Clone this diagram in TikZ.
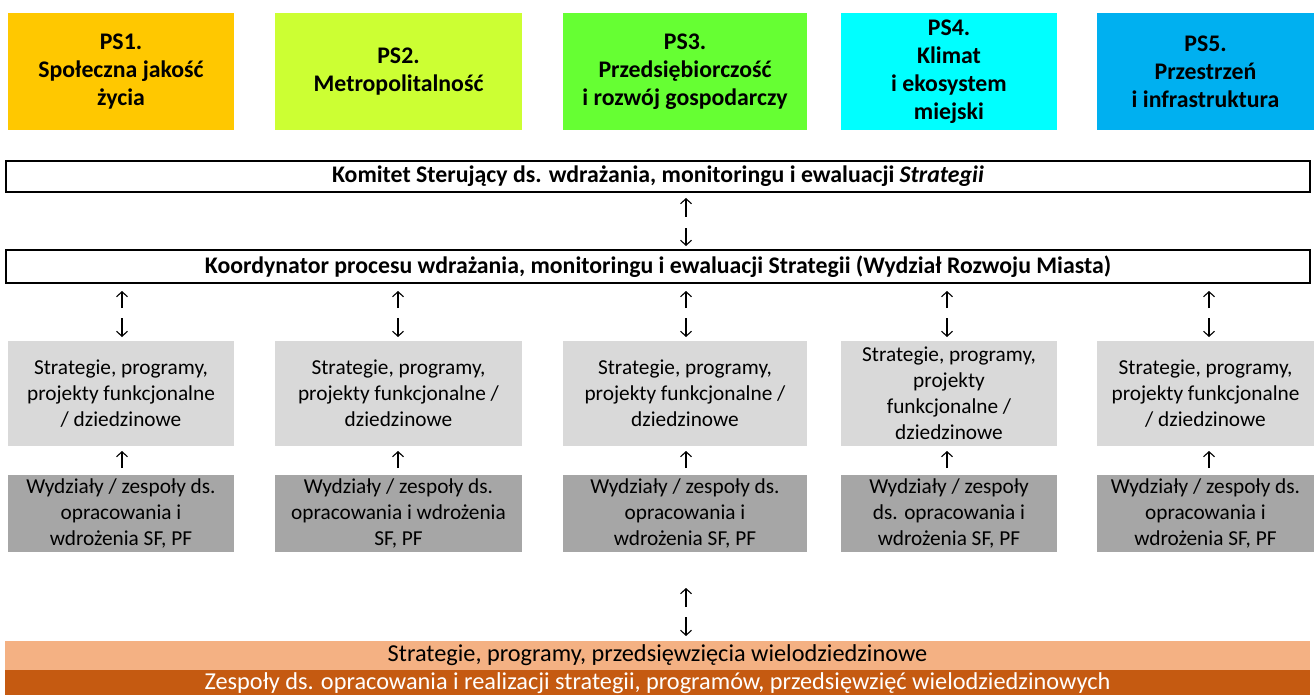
\documentclass[tikz,border=0pt]{standalone}
\usepackage{fontspec}
\setmainfont{Carlito}
\usetikzlibrary{arrows.meta}

\definecolor{psone}{HTML}{FFC800}
\definecolor{pstwo}{HTML}{CCFF33}
\definecolor{psthree}{HTML}{66FF33}
\definecolor{psfour}{HTML}{00FFFF}
\definecolor{psfive}{HTML}{00B0F0}
\definecolor{lightgray}{HTML}{D9D9D9}
\definecolor{darkgray}{HTML}{A6A6A6}
\definecolor{lightorange}{HTML}{F4B183}
\definecolor{darkorange}{HTML}{C55A11}

\begin{document}
\begin{tikzpicture}[x=1pt, y=-1pt,
  psbox/.style={inner sep=0pt, minimum height=117pt, align=center,
                font=\fontsize{23.8}{28}\selectfont\bfseries},
  bar/.style={draw=black, line width=1.5pt, inner sep=0pt, minimum width=1304pt,
              font=\fontsize{23.8}{28}\selectfont\bfseries},
  docbox/.style={fill=lightgray, inner sep=0pt, minimum height=105pt, align=center,
                 font=\fontsize{21.3}{26}\selectfont},
  teambox/.style={fill=darkgray, inner sep=0pt, minimum height=77pt, align=center,
                  font=\fontsize{21.3}{26}\selectfont},
  band/.style={inner sep=0pt, minimum width=1305pt, font=\fontsize{24.3}{28}\selectfont},
  arr/.style={line width=1.1pt, -{Straight Barb[length=5pt, width=11pt]}}]

\useasboundingbox (0,0) rectangle (1314,695);

  % priority areas
  \node[psbox, fill=psone, minimum width=226pt] (ps1) at (121,71.5)
        {PS1.\\ Społeczna jakość\\ życia};
  \node[psbox, fill=pstwo, minimum width=247pt] (ps2) at (398.5,71.5)
        {PS2.\\ Metropolitalność};
  \node[psbox, fill=psthree, minimum width=244pt] (ps3) at (685,71.5)
        {PS3.\\ Przedsiębiorczość\\ i rozwój gospodarczy};
  \node[psbox, fill=psfour, minimum width=216pt] (ps4) at (949,71.5)
        {PS4.\\ Klimat\\ i ekosystem\\ miejski};
  \node[psbox, fill=psfive, minimum width=217pt] (ps5) at (1205.5,71.5)
        {PS5.\\ Przestrzeń\\ i infrastruktura};

  % steering and coordination
  \node[bar, minimum height=31pt] (komitet) at (658,176.5)
        {Komitet Sterujący ds. wdrażania, monitoringu i ewaluacji \textit{Strategii}};
  \node[bar, minimum height=33pt] (koord) at (658,266.5)
        {Koordynator procesu wdrażania, monitoringu i ewaluacji Strategii (Wydział Rozwoju Miasta)};

  \path (686,217) coordinate (ka) (686,198) coordinate (kb)
        (686,228) coordinate (kc) (686,246) coordinate (kd);
  \draw[arr] (ka) -- (kb);
  \draw[arr] (kc) -- (kd);

  % documents per area
  \node[docbox, minimum width=226pt] (doc1) at (121,393.5)
        {Strategie, programy,\\ projekty funkcjonalne\\ / dziedzinowe};
  \node[docbox, minimum width=247pt] (doc2) at (398.5,393.5)
        {Strategie, programy,\\ projekty funkcjonalne /\\ dziedzinowe};
  \node[docbox, minimum width=244pt] (doc3) at (685,393.5)
        {Strategie, programy,\\ projekty funkcjonalne /\\ dziedzinowe};
  \node[docbox, minimum width=216pt] (doc4) at (949,393.5)
        {Strategie, programy,\\ projekty\\ funkcjonalne /\\ dziedzinowe};
  \node[docbox, minimum width=217pt] (doc5) at (1205.5,393.5)
        {Strategie, programy,\\ projekty funkcjonalne\\ / dziedzinowe};

  % teams per area
  \node[teambox, minimum width=226pt] (team1) at (121,513.5)
        {Wydziały / zespoły ds.\\ opracowania i\\ wdrożenia SF, PF};
  \node[teambox, minimum width=247pt] (team2) at (398.5,513.5)
        {Wydziały / zespoły ds.\\ opracowania i wdrożenia\\ SF, PF};
  \node[teambox, minimum width=244pt] (team3) at (685,513.5)
        {Wydziały / zespoły ds.\\ opracowania i\\ wdrożenia SF, PF};
  \node[teambox, minimum width=216pt] (team4) at (949,513.5)
        {Wydziały / zespoły\\ ds. opracowania i\\ wdrożenia SF, PF};
  \node[teambox, minimum width=217pt] (team5) at (1205.5,513.5)
        {Wydziały / zespoły ds.\\ opracowania i\\ wdrożenia SF, PF};

  % arrows between the rows
  \foreach \i/\x in {1/122, 2/398, 3/686, 4/947, 5/1209} {
    \path (\x,308) coordinate (ua\i) (\x,291) coordinate (ub\i)
          (\x,318) coordinate (da\i) (\x,337) coordinate (db\i)
          (\x,468) coordinate (ta\i) (\x,451) coordinate (tb\i);
    \draw[arr] (ua\i) -- (ub\i);
    \draw[arr] (da\i) -- (db\i);
    \draw[arr] (ta\i) -- (tb\i);
  }

  % cross-area level
  \path (686,607) coordinate (wa) (686,588) coordinate (wb)
        (686,617) coordinate (wc) (686,636) coordinate (wd);
  \draw[arr] (wa) -- (wb);
  \draw[arr] (wc) -- (wd);

  \node[band, fill=lightorange, minimum height=29pt] (multi) at (657.5,655.5)
        {Strategie, programy, przedsięwzięcia wielodziedzinowe};
  \node[band, fill=darkorange, text=white, minimum height=25pt, anchor=north] (zespoly)
        at (multi.south)
        {Zespoły ds. opracowania i realizacji strategii, programów, przedsięwzięć wielodziedzinowych};
\end{tikzpicture}
\end{document}
